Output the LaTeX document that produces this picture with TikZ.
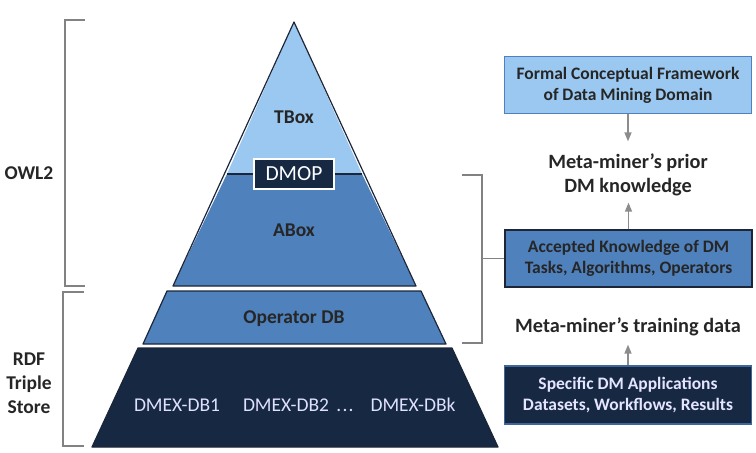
\documentclass[tikz,border=0pt]{standalone}
\usepackage{fontspec}
\setmainfont{Carlito}
\usetikzlibrary{positioning,arrows.meta}

\definecolor{tboxblue}{RGB}{155,200,240}
\definecolor{aboxblue}{RGB}{79,129,189}
\definecolor{storenavy}{RGB}{22,40,66}
\definecolor{edgedark}{RGB}{28,38,56}
\definecolor{bracketgray}{RGB}{130,130,130}
\definecolor{arrowgray}{RGB}{140,140,140}

\tikzset{
	layer/.style={draw=edgedark, line width=1.2pt, line join=round},
	lbl/.style={font=\fontsize{19.5}{24}\selectfont\bfseries, text=black!85, align=center},
	sidelbl/.style={lbl, font=\fontsize{20.3}{24}\selectfont\bfseries},
	dblbl/.style={font=\fontsize{19.5}{24}\selectfont, text=white!88!blue, text height=13pt, text depth=4pt},
	infobox/.style={draw, line width=1.2pt, minimum width=247pt, minimum height=57pt, align=center,
		font=\fontsize{17.5}{21}\selectfont\bfseries},
	brk/.style={draw=bracketgray, line width=1.3pt},
	feed/.style={-{Triangle[width=7pt,length=9pt]}, draw=arrowgray, line width=1.5pt},
}

\begin{document}
\begin{tikzpicture}[x=1pt,y=-1pt]
	\useasboundingbox (0,0) rectangle (756,453);

	% pyramid layers
	\coordinate (apex) at (294,22);
	\fill[tboxblue] (apex) -- (362,174) -- (227,174) -- cycle;
	\fill[aboxblue] (227,174) -- (362,174) -- (416,286) -- (173,286) -- cycle;
	\draw[layer] (apex) -- (416,286) -- (173,286) -- cycle;
	\draw[layer] (227,174) -- (362,174);
	\draw[layer, fill=aboxblue] (167,291) -- (421,291) -- (446,344) -- (143,344) -- cycle;
	\draw[layer, fill=storenavy] (138,348) -- (452,348) -- (498,447) -- (92,447) -- cycle;

	\node[lbl] (tbox) at (294,117) {TBox};
	\node[draw=white, line width=1.5pt, fill=storenavy, text=white, minimum width=80pt, minimum height=30pt,
		font=\fontsize{21.5}{24}\selectfont] (dmop) at (294,174) {DMOP};
	\node[lbl] (abox) at (294,230) {ABox};
	\node[lbl] (opdb) at (294,319) {Operator DB};
	\node[dblbl] (db1) at (177,406.5) {DMEX-DB1};
	\node[dblbl] (db2) at (286,406.5) {DMEX-DB2};
	\node[dblbl] (dots) at (345,406.5) {.\kern1.2pt.\kern1.2pt.};
	\node[dblbl] (dbk) at (413,406.5) {DMEX-DBk};

	% left brackets
	\draw[brk] (85,20) -- (65,20) -- (65,286) -- (85,286);
	\draw[brk] (84,292) -- (63,292) -- (63,446) -- (84,446);
	\node[lbl] (owl) at (29,173) {OWL2};
	\node[lbl] (rdf) at (29,383) {RDF\\Triple\\Store};

	% right column
	\node[infobox, draw=aboxblue, fill=tboxblue, text=black!85] (formal) at (628,85)
		{Formal Conceptual Framework\\of Data Mining Domain};
	\node[sidelbl] (prior) at (628,175) {Meta-miner’s prior\\DM knowledge};
	\node[infobox, draw=edgedark, fill=aboxblue, text=black!85] (accepted) at (628.5,258.5)
		{Accepted Knowledge of DM\\Tasks, Algorithms, Operators};
	\node[sidelbl] (training) at (628,327) {Meta-miner’s training data};
	\node[infobox, draw=aboxblue!70!storenavy, fill=storenavy, text=white!90!blue, minimum height=58pt] (specific) at (628,395)
		{Specific DM Applications\\Datasets, Workflows, Results};

	\draw[feed, shorten >=9pt] (formal.south) -- (formal.south |- prior.north);
	\draw[feed, shorten >=3pt] (accepted.north) -- (accepted.north |- prior.south);
	\draw[feed, shorten >=5pt] (specific.north) -- (specific.north |- training.south);

	% right bracket
	\coordinate (rtop) at (462,175);
	\coordinate (rbot) at (462,343);
	\draw[brk] (rtop) -- ++(20,0) |- (rbot);
	\draw[brk] (accepted.west) -- ++(-23,0);
\end{tikzpicture}
\end{document}
